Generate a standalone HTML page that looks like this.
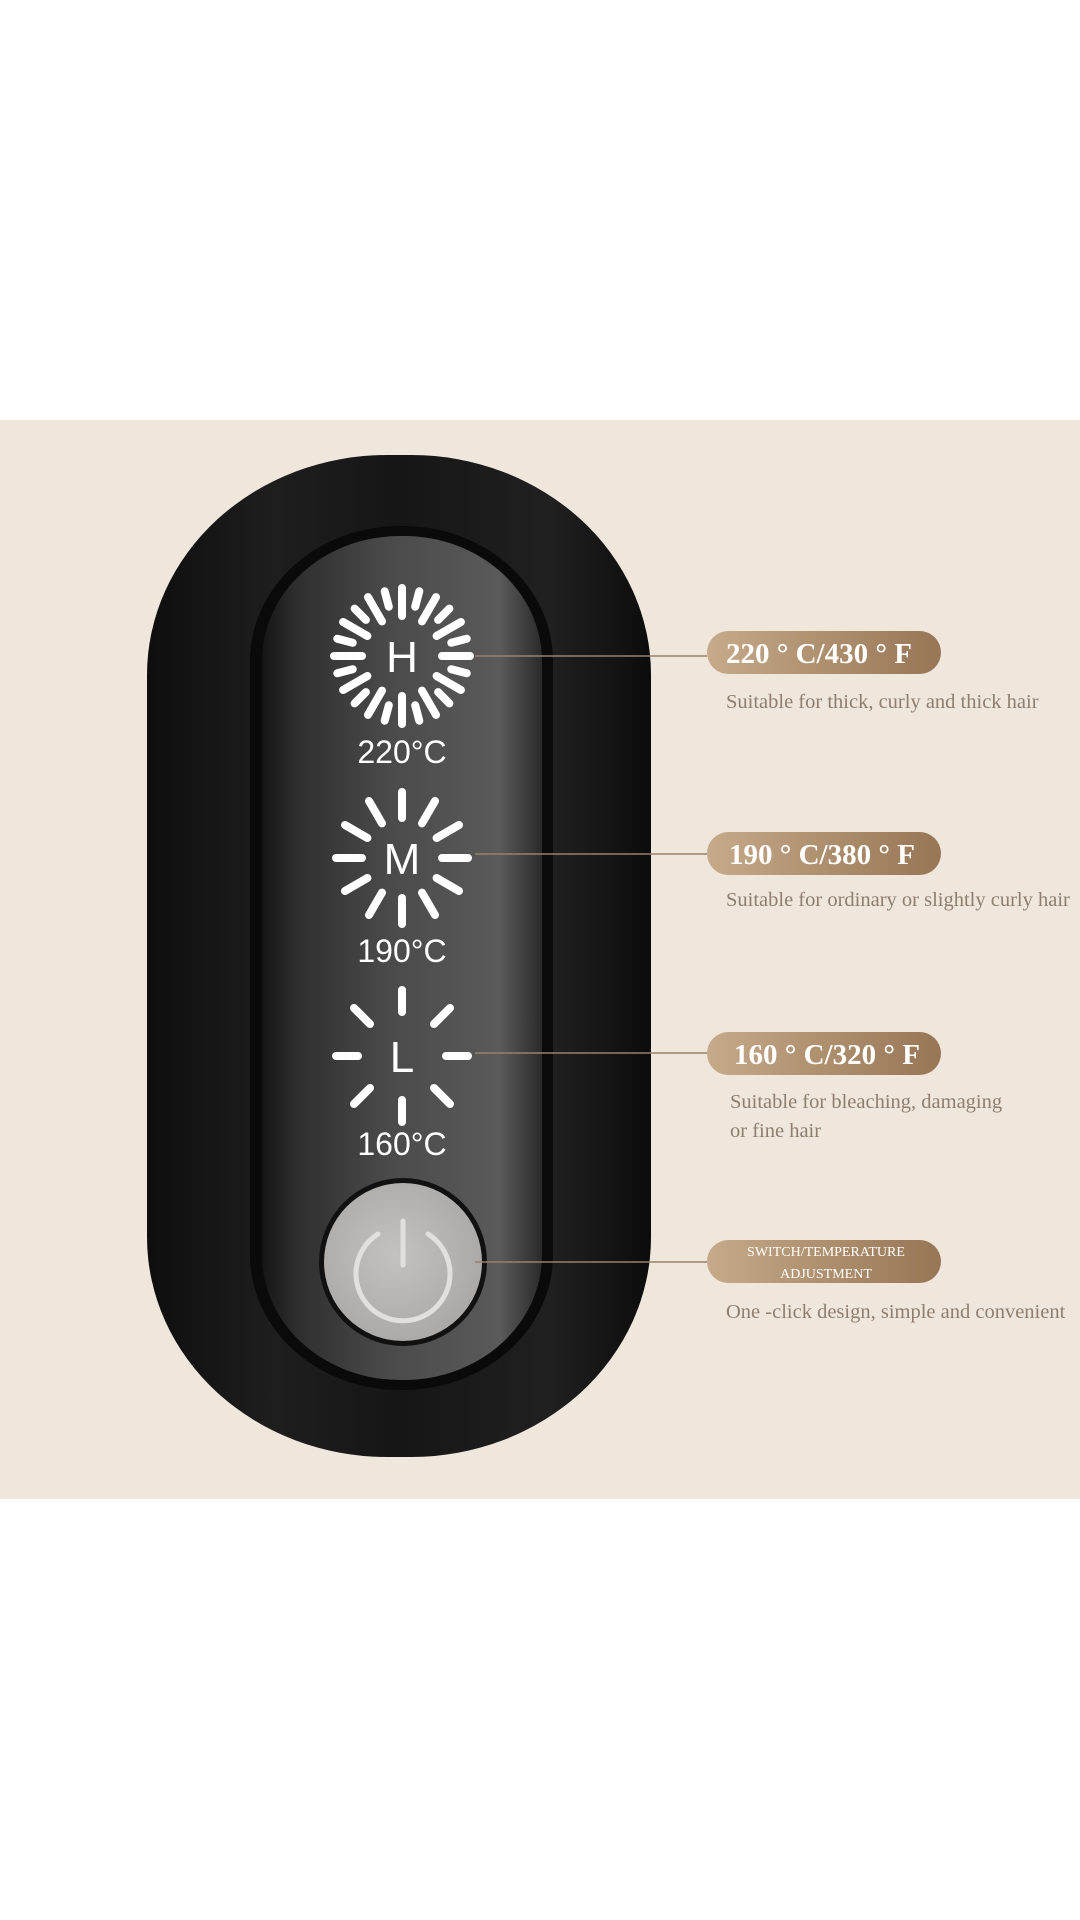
<!DOCTYPE html>
<html><head><meta charset="utf-8"><style>
html,body{margin:0;padding:0;background:#fff}
svg{display:block}
</style></head><body>
<svg width="1080" height="1920" viewBox="0 0 1080 1920" xmlns="http://www.w3.org/2000/svg">
<defs>
<linearGradient id="outer" x1="0" x2="1" y1="0" y2="0">
<stop offset="0" stop-color="#0e0e0e"/><stop offset="0.25" stop-color="#1e1e1e"/><stop offset="0.5" stop-color="#161616"/><stop offset="0.8" stop-color="#202020"/><stop offset="1" stop-color="#0c0c0c"/>
</linearGradient>
<linearGradient id="screen" x1="0" x2="1" y1="0" y2="0">
<stop offset="0" stop-color="#151515"/><stop offset="0.12" stop-color="#2e2e2e"/><stop offset="0.45" stop-color="#4a4a4a"/><stop offset="0.85" stop-color="#5a5a5a"/><stop offset="1" stop-color="#2a2a2a"/>
</linearGradient>
<linearGradient id="pill" x1="0" x2="1" y1="0" y2="0">
<stop offset="0" stop-color="#c6aa8a"/><stop offset="0.6" stop-color="#a98a69"/><stop offset="1" stop-color="#977656"/>
</linearGradient>
<radialGradient id="btn" cx="0.45" cy="0.45" r="0.6">
<stop offset="0" stop-color="#c4c2c0"/><stop offset="1" stop-color="#aaa8a6"/>
</radialGradient>
</defs>
<rect x="0" y="420" width="1080" height="1079" fill="#efe6dc"/>
<rect x="147" y="455" width="504" height="1002" rx="240" ry="220" fill="url(#outer)"/>
<rect x="250" y="526" width="303" height="864" rx="150" ry="135" fill="#0a0a0a"/>
<rect x="262" y="536" width="280" height="844" rx="138" ry="125" fill="url(#screen)"/>
<g stroke="#fff" stroke-linecap="round" fill="none">
<g transform="translate(402,656)" stroke-width="8">
<path d="M0,-40V-68 M0,40V68 M-40,0H-68 M40,0H68 M20,-34.6L34,-58.9 M-20,-34.6L-34,-58.9 M20,34.6L34,58.9 M-20,34.6L-34,58.9 M34.6,-20L58.9,-34 M-34.6,-20L-58.9,-34 M34.6,20L58.9,34 M-34.6,20L-58.9,34"/>
<path d="M13.2,-49.3L17.3,-64.7 M-13.2,-49.3L-17.3,-64.7 M13.2,49.3L17.3,64.7 M-13.2,49.3L-17.3,64.7 M49.3,-13.2L64.7,-17.3 M-49.3,-13.2L-64.7,-17.3 M49.3,13.2L64.7,17.3 M-49.3,13.2L-64.7,17.3 M36.1,-36.1L47.4,-47.4 M-36.1,-36.1L-47.4,-47.4 M36.1,36.1L47.4,47.4 M-36.1,36.1L-47.4,47.4"/>
</g>
<g transform="translate(402,858)" stroke-width="8">
<path d="M0,-40V-66 M0,40V66 M-40,0H-66 M40,0H66 M20,-34.6L33,-57 M-20,-34.6L-33,-57 M20,34.6L33,57 M-20,34.6L-33,57 M34.6,-20L57,-33 M-34.6,-20L-57,-33 M34.6,20L57,33 M-34.6,20L-57,33"/>
</g>
<g transform="translate(402,1056)" stroke-width="8">
<path d="M0,-44V-66 M0,44V66 M-44,0H-66 M44,0H66 M32,-32L48,-48 M-32,-32L-48,-48 M32,32L48,48 M-32,32L-48,48"/>
</g>
</g>
<g fill="#fff" font-family="Liberation Sans, sans-serif" text-anchor="middle">
<text x="402" y="672" font-size="44">H</text>
<text x="402" y="874" font-size="44">M</text>
<text x="402" y="1072" font-size="44">L</text>
<text x="402" y="763" font-size="32">220°C</text>
<text x="402" y="962" font-size="32">190°C</text>
<text x="402" y="1155" font-size="32">160°C</text>
</g>
<circle cx="403" cy="1262" r="84" fill="#111"/>
<circle cx="403" cy="1262" r="79" fill="url(#btn)"/>
<g stroke="#e2e0de" stroke-width="5" stroke-linecap="round" fill="none">
<path d="M378,1234 A47,47 0 1 0 428,1234"/>
<path d="M403,1221V1265"/>
</g>
<g stroke="#9a8068" stroke-width="1.6">
<line x1="475" y1="656" x2="707" y2="656"/>
<line x1="475" y1="854" x2="707" y2="854"/>
<line x1="475" y1="1053" x2="707" y2="1053"/>
<line x1="475" y1="1262" x2="707" y2="1262"/>
</g>
<g fill="url(#pill)">
<rect x="707" y="631" width="234" height="43" rx="21.5"/>
<rect x="707" y="832" width="234" height="43" rx="21.5"/>
<rect x="707" y="1032" width="234" height="43" rx="21.5"/>
<rect x="707" y="1240" width="234" height="43" rx="21.5"/>
</g>
<g fill="#fff" font-family="Liberation Serif, serif" font-size="29" font-weight="bold">
<text x="726" y="663">220 ° C/430 ° F</text>
<text x="729" y="864">190 ° C/380 ° F</text>
<text x="734" y="1064">160 ° C/320 ° F</text>
</g>
<g fill="#fff" font-family="Liberation Serif, serif" font-size="14" text-anchor="middle">
<text x="826" y="1256">SWITCH/TEMPERATURE</text>
<text x="826" y="1278">ADJUSTMENT</text>
</g>
<g fill="#8f7e6e" font-family="Liberation Serif, serif" font-size="20.5">
<text x="726" y="708">Suitable for thick, curly and thick hair</text>
<text x="726" y="906">Suitable for ordinary or slightly curly hair</text>
<text x="730" y="1108">Suitable for bleaching, damaging</text>
<text x="730" y="1137">or fine hair</text>
<text x="726" y="1318">One -click design, simple and convenient</text>
</g>
</svg>
</body></html>
